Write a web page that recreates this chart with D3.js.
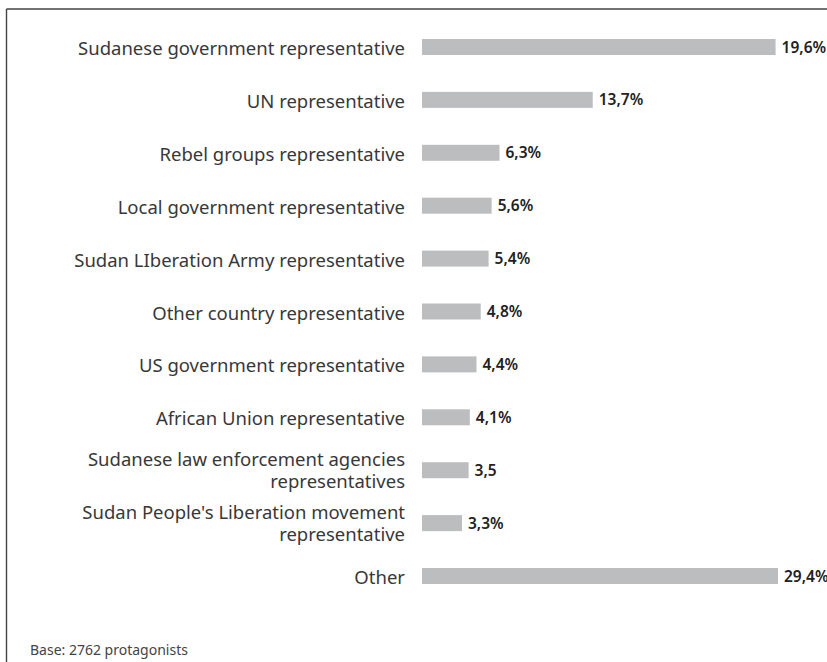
<!DOCTYPE html>
<html>
<head>
<meta charset="utf-8">
<script src="https://cdn.jsdelivr.net/npm/d3@7/dist/d3.min.js"></script>
<style>
  html, body { margin: 0; padding: 0; background: #fff; }
  svg { display: block; }
</style>
</head>
<body>
<svg id="chart" width="827" height="662"></svg>
<script>
// Categories (label lines)
const categories = [
  ["Sudanese government representative"],
  ["UN representative"],
  ["Rebel groups representative"],
  ["Local government representative"],
  ["Sudan LIberation Army representative"],
  ["Other country representative"],
  ["US government representative"],
  ["African Union representative"],
  ["Sudanese law enforcement agencies", "representatives"],
  ["Sudan People's Liberation movement", "representative"],
  ["Other"]
];
// Bar lengths as drawn in the picture (percent units)
const barValues = [29.2, 14.1, 6.4, 5.75, 5.5, 4.85, 4.5, 3.95, 3.85, 3.3, 29.4];
// Printed value labels
const valueLabels = ["19,6%", "13,7%", "6,3%", "5,6%", "5,4%", "4,8%", "4,4%", "4,1%", "3,5", "3,3%", "29,4%"];
const footnote = "Base: 2762 protagonists";

const svg = d3.select("#chart");
const W = 827, H = 662;

// frame (top and left visible)
svg.append("line").attr("x1", 6.5).attr("y1", 9).attr("x2", W + 5).attr("y2", 9)
  .attr("stroke", "#444").attr("stroke-width", 1.4);
svg.append("line").attr("x1", 6.5).attr("y1", 9).attr("x2", 6.5).attr("y2", H + 5)
  .attr("stroke", "#444").attr("stroke-width", 1.4);

const idx = categories.map((d, i) => i);
const y = d3.scalePoint().domain(idx).range([47, 576]);
const x = d3.scaleLinear().domain([0, 29.4]).range([422, 778]);
const barH = 16;

const g = svg.append("g");

// bars
g.selectAll("rect.bar").data(idx).join("rect")
  .attr("class", "bar")
  .attr("x", x(0))
  .attr("y", i => y(i) - barH / 2)
  .attr("width", i => x(barValues[i]) - x(0))
  .attr("height", barH)
  .attr("fill", "#bcbdbf");

// category labels
const labels = g.selectAll("text.cat").data(idx).join("text")
  .attr("class", "cat")
  .attr("text-anchor", "end")
  .attr("font-family", "'Noto Sans', 'Open Sans', sans-serif")
  .attr("font-size", 18.5)
  .attr("fill", "#383838");
labels.each(function(i) {
  const lines = categories[i];
  const t = d3.select(this);
  if (lines.length === 1) {
    t.append("tspan").attr("x", 405).attr("y", y(i) + 8).text(lines[0]);
  } else {
    t.append("tspan").attr("x", 405).attr("y", y(i) - 4).text(lines[0]);
    t.append("tspan").attr("x", 405).attr("y", y(i) + 18).text(lines[1]);
  }
});

// value labels
g.selectAll("text.val").data(idx).join("text")
  .attr("class", "val")
  .attr("x", i => x(barValues[i]) + 6)
  .attr("y", i => y(i) + 5.5)
  .attr("font-family", "'Noto Sans', 'Open Sans', sans-serif")
  .attr("font-weight", 600)
  .attr("font-size", 15.5)
  .attr("fill", "#222")
  .text(i => valueLabels[i]);

// footnote
svg.append("text")
  .attr("x", 30).attr("y", 655)
  .attr("font-family", "'Noto Sans', 'Open Sans', sans-serif")
  .attr("font-size", 14)
  .attr("fill", "#444")
  .text(footnote);
</script>
</body>
</html>
